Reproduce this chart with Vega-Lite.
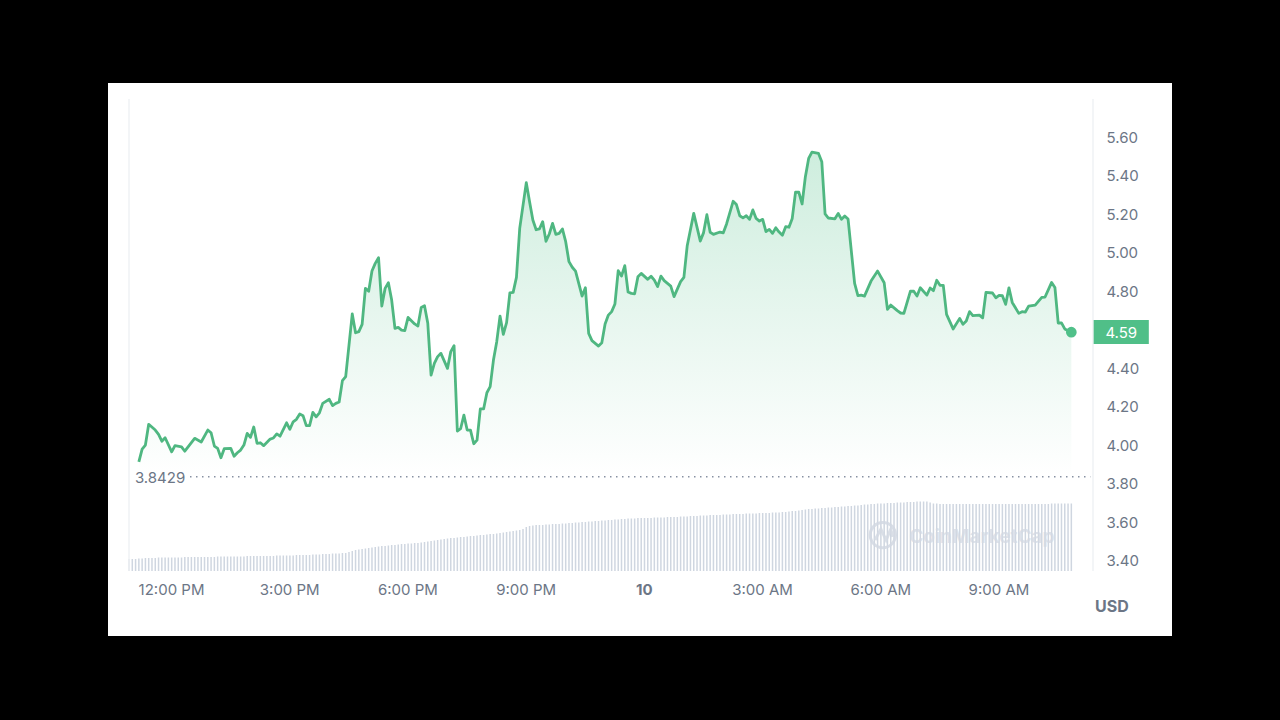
{"$schema":"https://vega.github.io/schema/vega-lite/v6.json","autosize":"none","width":1064,"height":553,"padding":{"left":108,"top":83,"right":108,"bottom":84},"background":"#000000","config":{"view":{"fill":"#ffffff","stroke":null},"font":"Inter"},
"datasets":{
"price":[{"t":"2024-01-09T11:11Z","p":3.916},{"t":"2024-01-09T11:16Z","p":3.982},{"t":"2024-01-09T11:21Z","p":4.003},{"t":"2024-01-09T11:26Z","p":4.111},{"t":"2024-01-09T11:36Z","p":4.081},{"t":"2024-01-09T11:41Z","p":4.059},{"t":"2024-01-09T11:46Z","p":4.023},{"t":"2024-01-09T11:51Z","p":4.041},{"t":"2024-01-09T12:01Z","p":3.968},{"t":"2024-01-09T12:06Z","p":4.0},{"t":"2024-01-09T12:16Z","p":3.994},{"t":"2024-01-09T12:21Z","p":3.971},{"t":"2024-01-09T12:36Z","p":4.038},{"t":"2024-01-09T12:46Z","p":4.019},{"t":"2024-01-09T12:56Z","p":4.081},{"t":"2024-01-09T13:01Z","p":4.067},{"t":"2024-01-09T13:06Z","p":3.998},{"t":"2024-01-09T13:11Z","p":3.986},{"t":"2024-01-09T13:16Z","p":3.937},{"t":"2024-01-09T13:21Z","p":3.984},{"t":"2024-01-09T13:31Z","p":3.986},{"t":"2024-01-09T13:36Z","p":3.945},{"t":"2024-01-09T13:41Z","p":3.963},{"t":"2024-01-09T13:46Z","p":3.977},{"t":"2024-01-09T13:51Z","p":4.003},{"t":"2024-01-09T13:56Z","p":4.064},{"t":"2024-01-09T14:01Z","p":4.043},{"t":"2024-01-09T14:06Z","p":4.097},{"t":"2024-01-09T14:11Z","p":4.012},{"t":"2024-01-09T14:16Z","p":4.015},{"t":"2024-01-09T14:21Z","p":4.0},{"t":"2024-01-09T14:31Z","p":4.034},{"t":"2024-01-09T14:36Z","p":4.04},{"t":"2024-01-09T14:41Z","p":4.061},{"t":"2024-01-09T14:46Z","p":4.049},{"t":"2024-01-09T14:56Z","p":4.119},{"t":"2024-01-09T15:01Z","p":4.085},{"t":"2024-01-09T15:06Z","p":4.124},{"t":"2024-01-09T15:11Z","p":4.137},{"t":"2024-01-09T15:16Z","p":4.165},{"t":"2024-01-09T15:21Z","p":4.156},{"t":"2024-01-09T15:26Z","p":4.104},{"t":"2024-01-09T15:31Z","p":4.104},{"t":"2024-01-09T15:36Z","p":4.173},{"t":"2024-01-09T15:41Z","p":4.15},{"t":"2024-01-09T15:46Z","p":4.171},{"t":"2024-01-09T15:51Z","p":4.22},{"t":"2024-01-09T16:01Z","p":4.241},{"t":"2024-01-09T16:06Z","p":4.208},{"t":"2024-01-09T16:11Z","p":4.22},{"t":"2024-01-09T16:16Z","p":4.227},{"t":"2024-01-09T16:21Z","p":4.338},{"t":"2024-01-09T16:26Z","p":4.359},{"t":"2024-01-09T16:36Z","p":4.685},{"t":"2024-01-09T16:41Z","p":4.587},{"t":"2024-01-09T16:46Z","p":4.593},{"t":"2024-01-09T16:51Z","p":4.631},{"t":"2024-01-09T16:56Z","p":4.818},{"t":"2024-01-09T17:01Z","p":4.803},{"t":"2024-01-09T17:06Z","p":4.908},{"t":"2024-01-09T17:11Z","p":4.948},{"t":"2024-01-09T17:16Z","p":4.977},{"t":"2024-01-09T17:21Z","p":4.726},{"t":"2024-01-09T17:26Z","p":4.818},{"t":"2024-01-09T17:31Z","p":4.847},{"t":"2024-01-09T17:36Z","p":4.757},{"t":"2024-01-09T17:41Z","p":4.61},{"t":"2024-01-09T17:46Z","p":4.615},{"t":"2024-01-09T17:51Z","p":4.601},{"t":"2024-01-09T17:56Z","p":4.598},{"t":"2024-01-09T18:01Z","p":4.667},{"t":"2024-01-09T18:11Z","p":4.633},{"t":"2024-01-09T18:16Z","p":4.622},{"t":"2024-01-09T18:21Z","p":4.719},{"t":"2024-01-09T18:26Z","p":4.728},{"t":"2024-01-09T18:31Z","p":4.636},{"t":"2024-01-09T18:36Z","p":4.367},{"t":"2024-01-09T18:41Z","p":4.428},{"t":"2024-01-09T18:46Z","p":4.463},{"t":"2024-01-09T18:51Z","p":4.48},{"t":"2024-01-09T19:01Z","p":4.402},{"t":"2024-01-09T19:06Z","p":4.489},{"t":"2024-01-09T19:11Z","p":4.52},{"t":"2024-01-09T19:16Z","p":4.076},{"t":"2024-01-09T19:21Z","p":4.088},{"t":"2024-01-09T19:26Z","p":4.159},{"t":"2024-01-09T19:31Z","p":4.081},{"t":"2024-01-09T19:36Z","p":4.081},{"t":"2024-01-09T19:41Z","p":4.01},{"t":"2024-01-09T19:46Z","p":4.029},{"t":"2024-01-09T19:51Z","p":4.191},{"t":"2024-01-09T19:56Z","p":4.191},{"t":"2024-01-09T20:01Z","p":4.275},{"t":"2024-01-09T20:06Z","p":4.307},{"t":"2024-01-09T20:11Z","p":4.445},{"t":"2024-01-09T20:16Z","p":4.541},{"t":"2024-01-09T20:21Z","p":4.674},{"t":"2024-01-09T20:26Z","p":4.579},{"t":"2024-01-09T20:31Z","p":4.64},{"t":"2024-01-09T20:36Z","p":4.795},{"t":"2024-01-09T20:41Z","p":4.797},{"t":"2024-01-09T20:46Z","p":4.875},{"t":"2024-01-09T20:51Z","p":5.13},{"t":"2024-01-09T21:01Z","p":5.368},{"t":"2024-01-09T21:06Z","p":5.269},{"t":"2024-01-09T21:11Z","p":5.174},{"t":"2024-01-09T21:16Z","p":5.123},{"t":"2024-01-09T21:21Z","p":5.127},{"t":"2024-01-09T21:26Z","p":5.165},{"t":"2024-01-09T21:31Z","p":5.063},{"t":"2024-01-09T21:36Z","p":5.101},{"t":"2024-01-09T21:41Z","p":5.156},{"t":"2024-01-09T21:46Z","p":5.099},{"t":"2024-01-09T21:51Z","p":5.104},{"t":"2024-01-09T21:56Z","p":5.127},{"t":"2024-01-09T22:01Z","p":5.061},{"t":"2024-01-09T22:06Z","p":4.957},{"t":"2024-01-09T22:11Z","p":4.928},{"t":"2024-01-09T22:16Z","p":4.908},{"t":"2024-01-09T22:26Z","p":4.778},{"t":"2024-01-09T22:31Z","p":4.821},{"t":"2024-01-09T22:36Z","p":4.584},{"t":"2024-01-09T22:41Z","p":4.546},{"t":"2024-01-09T22:51Z","p":4.518},{"t":"2024-01-09T22:56Z","p":4.535},{"t":"2024-01-09T23:01Z","p":4.633},{"t":"2024-01-09T23:06Z","p":4.679},{"t":"2024-01-09T23:11Z","p":4.697},{"t":"2024-01-09T23:16Z","p":4.737},{"t":"2024-01-09T23:21Z","p":4.91},{"t":"2024-01-09T23:26Z","p":4.882},{"t":"2024-01-09T23:31Z","p":4.936},{"t":"2024-01-09T23:36Z","p":4.799},{"t":"2024-01-09T23:41Z","p":4.792},{"t":"2024-01-09T23:46Z","p":4.79},{"t":"2024-01-09T23:51Z","p":4.879},{"t":"2024-01-09T23:56Z","p":4.896},{"t":"2024-01-10T00:06Z","p":4.865},{"t":"2024-01-10T00:11Z","p":4.881},{"t":"2024-01-10T00:16Z","p":4.861},{"t":"2024-01-10T00:21Z","p":4.827},{"t":"2024-01-10T00:26Z","p":4.882},{"t":"2024-01-10T00:31Z","p":4.858},{"t":"2024-01-10T00:41Z","p":4.83},{"t":"2024-01-10T00:46Z","p":4.775},{"t":"2024-01-10T00:56Z","p":4.853},{"t":"2024-01-10T01:01Z","p":4.875},{"t":"2024-01-10T01:06Z","p":5.038},{"t":"2024-01-10T01:16Z","p":5.208},{"t":"2024-01-10T01:26Z","p":5.064},{"t":"2024-01-10T01:31Z","p":5.108},{"t":"2024-01-10T01:36Z","p":5.201},{"t":"2024-01-10T01:41Z","p":5.11},{"t":"2024-01-10T01:46Z","p":5.099},{"t":"2024-01-10T01:56Z","p":5.111},{"t":"2024-01-10T02:01Z","p":5.107},{"t":"2024-01-10T02:06Z","p":5.153},{"t":"2024-01-10T02:16Z","p":5.271},{"t":"2024-01-10T02:21Z","p":5.254},{"t":"2024-01-10T02:26Z","p":5.196},{"t":"2024-01-10T02:31Z","p":5.185},{"t":"2024-01-10T02:36Z","p":5.196},{"t":"2024-01-10T02:41Z","p":5.177},{"t":"2024-01-10T02:46Z","p":5.226},{"t":"2024-01-10T02:51Z","p":5.182},{"t":"2024-01-10T02:56Z","p":5.168},{"t":"2024-01-10T03:01Z","p":5.177},{"t":"2024-01-10T03:06Z","p":5.113},{"t":"2024-01-10T03:11Z","p":5.125},{"t":"2024-01-10T03:16Z","p":5.104},{"t":"2024-01-10T03:21Z","p":5.133},{"t":"2024-01-10T03:26Z","p":5.111},{"t":"2024-01-10T03:31Z","p":5.094},{"t":"2024-01-10T03:36Z","p":5.139},{"t":"2024-01-10T03:41Z","p":5.136},{"t":"2024-01-10T03:46Z","p":5.182},{"t":"2024-01-10T03:51Z","p":5.319},{"t":"2024-01-10T03:56Z","p":5.318},{"t":"2024-01-10T04:01Z","p":5.257},{"t":"2024-01-10T04:06Z","p":5.399},{"t":"2024-01-10T04:11Z","p":5.494},{"t":"2024-01-10T04:16Z","p":5.527},{"t":"2024-01-10T04:26Z","p":5.52},{"t":"2024-01-10T04:31Z","p":5.477},{"t":"2024-01-10T04:36Z","p":5.205},{"t":"2024-01-10T04:41Z","p":5.184},{"t":"2024-01-10T04:51Z","p":5.18},{"t":"2024-01-10T04:56Z","p":5.208},{"t":"2024-01-10T05:01Z","p":5.177},{"t":"2024-01-10T05:06Z","p":5.194},{"t":"2024-01-10T05:11Z","p":5.179},{"t":"2024-01-10T05:21Z","p":4.844},{"t":"2024-01-10T05:26Z","p":4.78},{"t":"2024-01-10T05:31Z","p":4.783},{"t":"2024-01-10T05:36Z","p":4.778},{"t":"2024-01-10T05:46Z","p":4.856},{"t":"2024-01-10T05:56Z","p":4.908},{"t":"2024-01-10T06:06Z","p":4.847},{"t":"2024-01-10T06:11Z","p":4.709},{"t":"2024-01-10T06:16Z","p":4.731},{"t":"2024-01-10T06:26Z","p":4.702},{"t":"2024-01-10T06:31Z","p":4.69},{"t":"2024-01-10T06:36Z","p":4.688},{"t":"2024-01-10T06:46Z","p":4.804},{"t":"2024-01-10T06:51Z","p":4.803},{"t":"2024-01-10T06:56Z","p":4.778},{"t":"2024-01-10T07:01Z","p":4.821},{"t":"2024-01-10T07:11Z","p":4.783},{"t":"2024-01-10T07:16Z","p":4.82},{"t":"2024-01-10T07:21Z","p":4.806},{"t":"2024-01-10T07:26Z","p":4.86},{"t":"2024-01-10T07:31Z","p":4.834},{"t":"2024-01-10T07:36Z","p":4.834},{"t":"2024-01-10T07:41Z","p":4.683},{"t":"2024-01-10T07:51Z","p":4.607},{"t":"2024-01-10T08:01Z","p":4.662},{"t":"2024-01-10T08:06Z","p":4.631},{"t":"2024-01-10T08:11Z","p":4.648},{"t":"2024-01-10T08:16Z","p":4.697},{"t":"2024-01-10T08:21Z","p":4.676},{"t":"2024-01-10T08:31Z","p":4.679},{"t":"2024-01-10T08:36Z","p":4.665},{"t":"2024-01-10T08:41Z","p":4.797},{"t":"2024-01-10T08:51Z","p":4.794},{"t":"2024-01-10T08:56Z","p":4.769},{"t":"2024-01-10T09:01Z","p":4.782},{"t":"2024-01-10T09:06Z","p":4.78},{"t":"2024-01-10T09:11Z","p":4.735},{"t":"2024-01-10T09:16Z","p":4.821},{"t":"2024-01-10T09:21Z","p":4.745},{"t":"2024-01-10T09:31Z","p":4.688},{"t":"2024-01-10T09:36Z","p":4.697},{"t":"2024-01-10T09:41Z","p":4.695},{"t":"2024-01-10T09:46Z","p":4.726},{"t":"2024-01-10T09:56Z","p":4.731},{"t":"2024-01-10T10:06Z","p":4.771},{"t":"2024-01-10T10:11Z","p":4.773},{"t":"2024-01-10T10:21Z","p":4.849},{"t":"2024-01-10T10:26Z","p":4.823},{"t":"2024-01-10T10:31Z","p":4.638},{"t":"2024-01-10T10:36Z","p":4.639},{"t":"2024-01-10T10:41Z","p":4.607},{"t":"2024-01-10T10:51Z","p":4.59}],
"volume":[{"t":"2024-01-09T10:56Z","v":12},{"t":"2024-01-09T11:01Z","v":12},{"t":"2024-01-09T11:06Z","v":12},{"t":"2024-01-09T11:11Z","v":12.5},{"t":"2024-01-09T11:16Z","v":12.5},{"t":"2024-01-09T11:21Z","v":13},{"t":"2024-01-09T11:26Z","v":13},{"t":"2024-01-09T11:31Z","v":13},{"t":"2024-01-09T11:36Z","v":13},{"t":"2024-01-09T11:41Z","v":13.5},{"t":"2024-01-09T11:46Z","v":13.5},{"t":"2024-01-09T11:51Z","v":13.5},{"t":"2024-01-09T11:56Z","v":13.5},{"t":"2024-01-09T12:01Z","v":13.5},{"t":"2024-01-09T12:06Z","v":13.5},{"t":"2024-01-09T12:11Z","v":13.5},{"t":"2024-01-09T12:16Z","v":13.5},{"t":"2024-01-09T12:21Z","v":14},{"t":"2024-01-09T12:26Z","v":14},{"t":"2024-01-09T12:31Z","v":14},{"t":"2024-01-09T12:36Z","v":14},{"t":"2024-01-09T12:41Z","v":14},{"t":"2024-01-09T12:46Z","v":14},{"t":"2024-01-09T12:51Z","v":14},{"t":"2024-01-09T12:56Z","v":14},{"t":"2024-01-09T13:01Z","v":14},{"t":"2024-01-09T13:06Z","v":14},{"t":"2024-01-09T13:11Z","v":14.5},{"t":"2024-01-09T13:16Z","v":14.5},{"t":"2024-01-09T13:21Z","v":14.5},{"t":"2024-01-09T13:26Z","v":14.5},{"t":"2024-01-09T13:31Z","v":14.5},{"t":"2024-01-09T13:36Z","v":14.5},{"t":"2024-01-09T13:41Z","v":14.5},{"t":"2024-01-09T13:46Z","v":14.5},{"t":"2024-01-09T13:51Z","v":14.5},{"t":"2024-01-09T13:56Z","v":15},{"t":"2024-01-09T14:01Z","v":15},{"t":"2024-01-09T14:06Z","v":15},{"t":"2024-01-09T14:11Z","v":15},{"t":"2024-01-09T14:16Z","v":15},{"t":"2024-01-09T14:21Z","v":15},{"t":"2024-01-09T14:26Z","v":15},{"t":"2024-01-09T14:31Z","v":15},{"t":"2024-01-09T14:36Z","v":15},{"t":"2024-01-09T14:41Z","v":15.5},{"t":"2024-01-09T14:46Z","v":15.5},{"t":"2024-01-09T14:51Z","v":15.5},{"t":"2024-01-09T14:56Z","v":15.5},{"t":"2024-01-09T15:01Z","v":15.5},{"t":"2024-01-09T15:06Z","v":15.5},{"t":"2024-01-09T15:11Z","v":16},{"t":"2024-01-09T15:16Z","v":16},{"t":"2024-01-09T15:21Z","v":16},{"t":"2024-01-09T15:26Z","v":16},{"t":"2024-01-09T15:31Z","v":16},{"t":"2024-01-09T15:36Z","v":16.5},{"t":"2024-01-09T15:41Z","v":16.5},{"t":"2024-01-09T15:46Z","v":16.5},{"t":"2024-01-09T15:51Z","v":17},{"t":"2024-01-09T15:56Z","v":17},{"t":"2024-01-09T16:01Z","v":17},{"t":"2024-01-09T16:06Z","v":17.5},{"t":"2024-01-09T16:11Z","v":17.5},{"t":"2024-01-09T16:16Z","v":17.5},{"t":"2024-01-09T16:21Z","v":18},{"t":"2024-01-09T16:26Z","v":18},{"t":"2024-01-09T16:31Z","v":19},{"t":"2024-01-09T16:36Z","v":20},{"t":"2024-01-09T16:41Z","v":21},{"t":"2024-01-09T16:46Z","v":21.5},{"t":"2024-01-09T16:51Z","v":22},{"t":"2024-01-09T16:56Z","v":22.5},{"t":"2024-01-09T17:01Z","v":23},{"t":"2024-01-09T17:06Z","v":23.5},{"t":"2024-01-09T17:11Z","v":24},{"t":"2024-01-09T17:16Z","v":24.5},{"t":"2024-01-09T17:21Z","v":25},{"t":"2024-01-09T17:26Z","v":25},{"t":"2024-01-09T17:31Z","v":25.5},{"t":"2024-01-09T17:36Z","v":26},{"t":"2024-01-09T17:41Z","v":26},{"t":"2024-01-09T17:46Z","v":26.5},{"t":"2024-01-09T17:51Z","v":27},{"t":"2024-01-09T17:56Z","v":27},{"t":"2024-01-09T18:01Z","v":27.5},{"t":"2024-01-09T18:06Z","v":27.5},{"t":"2024-01-09T18:11Z","v":28},{"t":"2024-01-09T18:16Z","v":28},{"t":"2024-01-09T18:21Z","v":28.5},{"t":"2024-01-09T18:26Z","v":29},{"t":"2024-01-09T18:31Z","v":29.5},{"t":"2024-01-09T18:36Z","v":30},{"t":"2024-01-09T18:41Z","v":30.5},{"t":"2024-01-09T18:46Z","v":31},{"t":"2024-01-09T18:51Z","v":31.5},{"t":"2024-01-09T18:56Z","v":32},{"t":"2024-01-09T19:01Z","v":32.5},{"t":"2024-01-09T19:06Z","v":33},{"t":"2024-01-09T19:11Z","v":33},{"t":"2024-01-09T19:16Z","v":33.5},{"t":"2024-01-09T19:21Z","v":34},{"t":"2024-01-09T19:26Z","v":34},{"t":"2024-01-09T19:31Z","v":34.5},{"t":"2024-01-09T19:36Z","v":35},{"t":"2024-01-09T19:41Z","v":35},{"t":"2024-01-09T19:46Z","v":35.5},{"t":"2024-01-09T19:51Z","v":36},{"t":"2024-01-09T19:56Z","v":36},{"t":"2024-01-09T20:01Z","v":36.5},{"t":"2024-01-09T20:06Z","v":37},{"t":"2024-01-09T20:11Z","v":37},{"t":"2024-01-09T20:16Z","v":37.5},{"t":"2024-01-09T20:21Z","v":38},{"t":"2024-01-09T20:26Z","v":38.5},{"t":"2024-01-09T20:31Z","v":39},{"t":"2024-01-09T20:36Z","v":39.5},{"t":"2024-01-09T20:41Z","v":40},{"t":"2024-01-09T20:46Z","v":40.5},{"t":"2024-01-09T20:51Z","v":41},{"t":"2024-01-09T20:56Z","v":42},{"t":"2024-01-09T21:01Z","v":44},{"t":"2024-01-09T21:06Z","v":45},{"t":"2024-01-09T21:11Z","v":45.5},{"t":"2024-01-09T21:16Z","v":46},{"t":"2024-01-09T21:21Z","v":46},{"t":"2024-01-09T21:26Z","v":46},{"t":"2024-01-09T21:31Z","v":46.5},{"t":"2024-01-09T21:36Z","v":46.5},{"t":"2024-01-09T21:41Z","v":47},{"t":"2024-01-09T21:46Z","v":47},{"t":"2024-01-09T21:51Z","v":47},{"t":"2024-01-09T21:56Z","v":47.5},{"t":"2024-01-09T22:01Z","v":47.5},{"t":"2024-01-09T22:06Z","v":48},{"t":"2024-01-09T22:11Z","v":48},{"t":"2024-01-09T22:16Z","v":48.5},{"t":"2024-01-09T22:21Z","v":48.5},{"t":"2024-01-09T22:26Z","v":49},{"t":"2024-01-09T22:31Z","v":49},{"t":"2024-01-09T22:36Z","v":49.5},{"t":"2024-01-09T22:41Z","v":49.5},{"t":"2024-01-09T22:46Z","v":50},{"t":"2024-01-09T22:51Z","v":50},{"t":"2024-01-09T22:56Z","v":50.5},{"t":"2024-01-09T23:01Z","v":50.5},{"t":"2024-01-09T23:06Z","v":51},{"t":"2024-01-09T23:11Z","v":51},{"t":"2024-01-09T23:16Z","v":51.5},{"t":"2024-01-09T23:21Z","v":51.5},{"t":"2024-01-09T23:26Z","v":52},{"t":"2024-01-09T23:31Z","v":52},{"t":"2024-01-09T23:36Z","v":52.5},{"t":"2024-01-09T23:41Z","v":52.5},{"t":"2024-01-09T23:46Z","v":52.5},{"t":"2024-01-09T23:51Z","v":53},{"t":"2024-01-09T23:56Z","v":53},{"t":"2024-01-10T00:01Z","v":53},{"t":"2024-01-10T00:06Z","v":53},{"t":"2024-01-10T00:11Z","v":53},{"t":"2024-01-10T00:16Z","v":53.5},{"t":"2024-01-10T00:21Z","v":53.5},{"t":"2024-01-10T00:26Z","v":53.5},{"t":"2024-01-10T00:31Z","v":53.5},{"t":"2024-01-10T00:36Z","v":54},{"t":"2024-01-10T00:41Z","v":54},{"t":"2024-01-10T00:46Z","v":54},{"t":"2024-01-10T00:51Z","v":54},{"t":"2024-01-10T00:56Z","v":54.5},{"t":"2024-01-10T01:01Z","v":54.5},{"t":"2024-01-10T01:06Z","v":54.5},{"t":"2024-01-10T01:11Z","v":55},{"t":"2024-01-10T01:16Z","v":55},{"t":"2024-01-10T01:21Z","v":55},{"t":"2024-01-10T01:26Z","v":55.5},{"t":"2024-01-10T01:31Z","v":55.5},{"t":"2024-01-10T01:36Z","v":55.5},{"t":"2024-01-10T01:41Z","v":56},{"t":"2024-01-10T01:46Z","v":56},{"t":"2024-01-10T01:51Z","v":56},{"t":"2024-01-10T01:56Z","v":56},{"t":"2024-01-10T02:01Z","v":56.5},{"t":"2024-01-10T02:06Z","v":56.5},{"t":"2024-01-10T02:11Z","v":56.5},{"t":"2024-01-10T02:16Z","v":57},{"t":"2024-01-10T02:21Z","v":57},{"t":"2024-01-10T02:26Z","v":57},{"t":"2024-01-10T02:31Z","v":57},{"t":"2024-01-10T02:36Z","v":57.5},{"t":"2024-01-10T02:41Z","v":57.5},{"t":"2024-01-10T02:46Z","v":57.5},{"t":"2024-01-10T02:51Z","v":57.5},{"t":"2024-01-10T02:56Z","v":58},{"t":"2024-01-10T03:01Z","v":58},{"t":"2024-01-10T03:06Z","v":58},{"t":"2024-01-10T03:11Z","v":58},{"t":"2024-01-10T03:16Z","v":58.5},{"t":"2024-01-10T03:21Z","v":58.5},{"t":"2024-01-10T03:26Z","v":58.5},{"t":"2024-01-10T03:31Z","v":59},{"t":"2024-01-10T03:36Z","v":59},{"t":"2024-01-10T03:41Z","v":59.5},{"t":"2024-01-10T03:46Z","v":60},{"t":"2024-01-10T03:51Z","v":60},{"t":"2024-01-10T03:56Z","v":60.5},{"t":"2024-01-10T04:01Z","v":61},{"t":"2024-01-10T04:06Z","v":61.5},{"t":"2024-01-10T04:11Z","v":62},{"t":"2024-01-10T04:16Z","v":62},{"t":"2024-01-10T04:21Z","v":62.5},{"t":"2024-01-10T04:26Z","v":62.5},{"t":"2024-01-10T04:31Z","v":63},{"t":"2024-01-10T04:36Z","v":63},{"t":"2024-01-10T04:41Z","v":63.5},{"t":"2024-01-10T04:46Z","v":63.5},{"t":"2024-01-10T04:51Z","v":64},{"t":"2024-01-10T04:56Z","v":64},{"t":"2024-01-10T05:01Z","v":64.5},{"t":"2024-01-10T05:06Z","v":64.5},{"t":"2024-01-10T05:11Z","v":65},{"t":"2024-01-10T05:16Z","v":65},{"t":"2024-01-10T05:21Z","v":65.5},{"t":"2024-01-10T05:26Z","v":65.5},{"t":"2024-01-10T05:31Z","v":66},{"t":"2024-01-10T05:36Z","v":66.5},{"t":"2024-01-10T05:41Z","v":66.5},{"t":"2024-01-10T05:46Z","v":67},{"t":"2024-01-10T05:51Z","v":67},{"t":"2024-01-10T05:56Z","v":67.5},{"t":"2024-01-10T06:01Z","v":67.5},{"t":"2024-01-10T06:06Z","v":67.5},{"t":"2024-01-10T06:11Z","v":68},{"t":"2024-01-10T06:16Z","v":68},{"t":"2024-01-10T06:21Z","v":68},{"t":"2024-01-10T06:26Z","v":68.5},{"t":"2024-01-10T06:31Z","v":68.5},{"t":"2024-01-10T06:36Z","v":68.5},{"t":"2024-01-10T06:41Z","v":69},{"t":"2024-01-10T06:46Z","v":69},{"t":"2024-01-10T06:51Z","v":69},{"t":"2024-01-10T06:56Z","v":69.5},{"t":"2024-01-10T07:01Z","v":69.5},{"t":"2024-01-10T07:06Z","v":69.5},{"t":"2024-01-10T07:11Z","v":69.5},{"t":"2024-01-10T07:16Z","v":68.5},{"t":"2024-01-10T07:21Z","v":67.5},{"t":"2024-01-10T07:26Z","v":67.5},{"t":"2024-01-10T07:31Z","v":67},{"t":"2024-01-10T07:36Z","v":67},{"t":"2024-01-10T07:41Z","v":67},{"t":"2024-01-10T07:46Z","v":67},{"t":"2024-01-10T07:51Z","v":67},{"t":"2024-01-10T07:56Z","v":67},{"t":"2024-01-10T08:01Z","v":67},{"t":"2024-01-10T08:06Z","v":67},{"t":"2024-01-10T08:11Z","v":67},{"t":"2024-01-10T08:16Z","v":67},{"t":"2024-01-10T08:21Z","v":67},{"t":"2024-01-10T08:26Z","v":67},{"t":"2024-01-10T08:31Z","v":67},{"t":"2024-01-10T08:36Z","v":67},{"t":"2024-01-10T08:41Z","v":67},{"t":"2024-01-10T08:46Z","v":67},{"t":"2024-01-10T08:51Z","v":67},{"t":"2024-01-10T08:56Z","v":67},{"t":"2024-01-10T09:01Z","v":67},{"t":"2024-01-10T09:06Z","v":67},{"t":"2024-01-10T09:11Z","v":67},{"t":"2024-01-10T09:16Z","v":67},{"t":"2024-01-10T09:21Z","v":67},{"t":"2024-01-10T09:26Z","v":67},{"t":"2024-01-10T09:31Z","v":67},{"t":"2024-01-10T09:36Z","v":67},{"t":"2024-01-10T09:41Z","v":67},{"t":"2024-01-10T09:46Z","v":67},{"t":"2024-01-10T09:51Z","v":67},{"t":"2024-01-10T09:56Z","v":67},{"t":"2024-01-10T10:01Z","v":67},{"t":"2024-01-10T10:06Z","v":67},{"t":"2024-01-10T10:11Z","v":67},{"t":"2024-01-10T10:16Z","v":67},{"t":"2024-01-10T10:21Z","v":67.5},{"t":"2024-01-10T10:26Z","v":67.5},{"t":"2024-01-10T10:31Z","v":67.5},{"t":"2024-01-10T10:36Z","v":67.5},{"t":"2024-01-10T10:41Z","v":67.5},{"t":"2024-01-10T10:46Z","v":67.5},{"t":"2024-01-10T10:51Z","v":67.5}],
"grid":[{"p":5.803},{"p":5.6},{"p":5.4},{"p":5.2},{"p":5.0},{"p":4.8},{"p":4.6},{"p":4.4},{"p":4.2},{"p":4.0},{"p":3.8},{"p":3.6},{"p":3.4},{"p":3.348}],
"edges":[{"t":"2024-01-09T10:56Z","p0":3.348,"p1":5.803},{"t":"2024-01-10T11:24Z","p0":3.348,"p1":5.803}],
"logo":[{"t":"2024-01-10T05:52Z","p":3.509},{"t":"2024-01-10T06:01Z","p":3.566},{"t":"2024-01-10T06:09Z","p":3.509},{"t":"2024-01-10T06:16Z","p":3.566},{"t":"2024-01-10T06:19Z","p":3.526}]
},
"layer":[
{"data":{"name":"volume"},"mark":{"type":"bar","width":1.5,"color":"#cfd6e0"},"encoding":{"x":{"field":"t","type":"temporal","scale":{"type":"utc","domain":["2024-01-09T10:56Z","2024-01-10T11:24Z"],"range":[21,985],"padding":0},"axis":{"values":["2024-01-09T12:00Z","2024-01-09T15:00Z","2024-01-09T18:00Z","2024-01-09T21:00Z","2024-01-10T00:00Z","2024-01-10T03:00Z","2024-01-10T06:00Z","2024-01-10T09:00Z"],"title":null,"grid":false,"domain":false,"ticks":false,"offset":-65,"labelPadding":11,"labelFont":"Inter","labelFontSize":15,"labelColor":"#6c7686","labelOverlap":false,"labelFlush":false,"labelExpr":"utchours(datum.value)===0?'10':utcFormat(datum.value,'%-I:%M %p')","labelFontWeight":{"condition":{"test":"utchours(datum.value)===0","value":"bold"},"value":"normal"}}},"y":{"field":"v","type":"quantitative","scale":{"domain":[0,100],"range":[488,388],"zero":true,"nice":false},"axis":null}}},
{"layer":[
{"data":{"name":"grid"},"mark":{"type":"rule","color":"#eff2f5","strokeWidth":1},"encoding":{"y":{"field":"p","type":"quantitative","scale":{"domain":[3.348,5.803],"range":[488,16],"zero":false,"nice":false},"axis":{"values":[3.4,3.6,3.8,4.0,4.2,4.4,4.8,5.0,5.2,5.4,5.6],"format":".2f","title":null,"grid":false,"domain":false,"ticks":false,"orient":"right","offset":-79,"labelPadding":13,"labelOffset":-0.5,"labelFont":"Inter","labelFontSize":15,"labelColor":"#6c7686"}},"x":{"datum":"2024-01-09T10:56Z","type":"temporal"},"x2":{"datum":"2024-01-10T11:24Z"}}},
{"data":{"name":"edges"},"mark":{"type":"rule","color":"#eff2f5","strokeWidth":1.5},"encoding":{"x":{"field":"t","type":"temporal"},"y":{"field":"p0","type":"quantitative"},"y2":{"field":"p1"}}},
{"data":{"name":"price"},"mark":{"type":"area","line":false,"color":{"x1":0,"x2":0,"y1":0,"y2":1,"gradient":"linear","stops":[{"offset":0,"color":"rgba(79,191,135,0.28)"},{"offset":1,"color":"rgba(79,191,135,0)"}]}},"encoding":{"x":{"field":"t","type":"temporal"},"y":{"field":"p","type":"quantitative"},"y2":{"datum":3.8429}}},
{"data":{"name":"price"},"mark":{"type":"line","color":"#4fb781","strokeWidth":2.8,"strokeJoin":"round"},"encoding":{"x":{"field":"t","type":"temporal"},"y":{"field":"p","type":"quantitative"}}},
{"data":{"values":[{"t":"2024-01-10T10:51Z","p":4.59}]},"mark":{"type":"point","filled":true,"opacity":1,"size":115,"color":"#50c089"},"encoding":{"x":{"field":"t","type":"temporal"},"y":{"field":"p","type":"quantitative"}}},
{"data":{"values":[{"t0":"2024-01-09T12:29Z","t1":"2024-01-10T11:20Z","p":3.838}]},"mark":{"type":"rule","color":"#7f8a9c","strokeWidth":1.4,"strokeDash":[1.4,4.6]},"encoding":{"x":{"field":"t0","type":"temporal"},"x2":{"field":"t1"},"y":{"field":"p","type":"quantitative"}}},
{"data":{"values":[{"t":"2024-01-09T11:05Z","p":3.832,"label":"3.8429"}]},"mark":{"type":"text","align":"left","baseline":"middle","font":"Inter","fontSize":15,"color":"#6c7686"},"encoding":{"x":{"field":"t","type":"temporal"},"y":{"field":"p","type":"quantitative"},"text":{"field":"label"}}},
{"data":{"values":[{"t0":"2024-01-10T11:25Z","t1":"2024-01-10T12:49Z","p0":4.5286,"p1":4.6534}]},"mark":{"type":"rect","color":"#50bf88"},"encoding":{"x":{"field":"t0","type":"temporal"},"x2":{"field":"t1"},"y":{"field":"p0","type":"quantitative"},"y2":{"field":"p1"}}},
{"data":{"values":[{"t":"2024-01-10T12:07Z","p":4.587,"label":"4.59"}]},"mark":{"type":"text","align":"center","baseline":"middle","font":"Inter","fontSize":15,"color":"#ffffff"},"encoding":{"x":{"field":"t","type":"temporal"},"y":{"field":"p","type":"quantitative"},"text":{"field":"label"}}},
{"data":{"values":[{"t":"2024-01-10T11:27Z","p":3.16,"label":"USD"}]},"mark":{"type":"text","align":"left","baseline":"middle","font":"Inter","fontSize":16,"fontWeight":"bold","color":"#6c7686"},"encoding":{"x":{"field":"t","type":"temporal"},"y":{"field":"p","type":"quantitative"},"text":{"field":"label"}}},
{"data":{"values":[{"t":"2024-01-10T06:04Z","p":3.535}]},"mark":{"type":"point","filled":false,"size":640,"strokeWidth":3,"color":"#d3d9e3","opacity":0.85},"encoding":{"x":{"field":"t","type":"temporal"},"y":{"field":"p","type":"quantitative"}}},
{"data":{"name":"logo"},"mark":{"type":"line","color":"#d3d9e3","strokeWidth":3,"opacity":0.85},"encoding":{"x":{"field":"t","type":"temporal"},"y":{"field":"p","type":"quantitative"}}},
{"data":{"values":[{"t":"2024-01-10T06:44Z","p":3.525,"label":"CoinMarketCap"}]},"mark":{"type":"text","align":"left","baseline":"middle","font":"Inter","fontSize":19,"fontWeight":"bold","color":"#d3d9e3","opacity":0.75},"encoding":{"x":{"field":"t","type":"temporal"},"y":{"field":"p","type":"quantitative"},"text":{"field":"label"}}}
]}
],
"resolve":{"scale":{"y":"independent"}}}
